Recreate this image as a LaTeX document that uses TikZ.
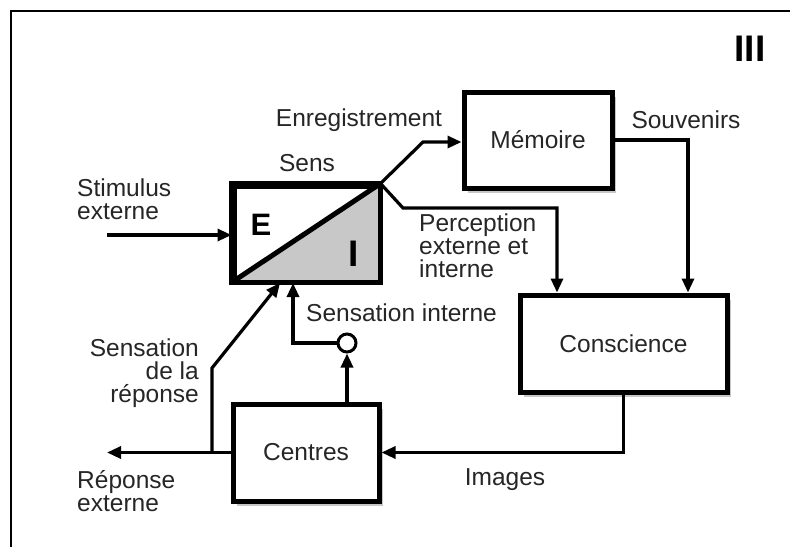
\documentclass[tikz,border=0pt]{standalone}
\usepackage{fontspec}
\setmainfont{Liberation Sans}
\usetikzlibrary{arrows.meta,shadows}
\definecolor{txt}{HTML}{262626}
\definecolor{lightgrayfill}{HTML}{C8C8C8}
\begin{document}
\begin{tikzpicture}[x=1pt,y=-1pt,
  lbl/.style={inner sep=0pt,text=txt,font=\fontsize{24.5}{23}\selectfont},
  box/.style={draw=black,line width=5pt,fill=white,inner sep=0pt,
    drop shadow={shadow xshift=4pt,shadow yshift=-5pt,opacity=0.22,fill=black}},
  conn/.style={line width=3.2pt,line join=miter},
  arr/.style={conn,-{Triangle[length=14pt,width=12pt]}}]
\useasboundingbox (0,0) rectangle (790,547);
\fill[white] (0,0) rectangle (790,547);
\draw[line width=1.5pt] (11,547) -- (11,11) -- (790,11);

% boxes
\node[box,minimum width=144pt,minimum height=94pt] (sens) at (306,233) {};
\fill[lightgrayfill] (sens.south west) -- (sens.north east) -- (sens.south east) -- cycle;
\draw[line width=5pt] (sens.south west) -- (sens.north east);
\draw[line width=5pt] (sens.south west) rectangle (sens.north east);
\node[box,minimum width=148pt,minimum height=96pt,lbl] (memo) at (538,140) {Mémoire};
\node[box,minimum width=207pt,minimum height=97pt,lbl] (consc) at (623.5,343.5) {Conscience};
\node[box,minimum width=146pt,minimum height=97pt,lbl] (centres) at (306,452.5) {Centres};
\node[draw,circle,line width=3pt,minimum size=18pt,inner sep=0pt,fill=white] (circ) at (347,343) {};

% letters in the sense box
\node[inner sep=0pt,font=\fontsize{31}{31}\selectfont\bfseries] (E) at (261,225) {E};
\node[inner sep=0pt,font=\fontsize{37}{37}\selectfont\bfseries] (I) at (354,254) {I};
\node[inner sep=0pt,font=\fontsize{37}{37}\selectfont\bfseries] (roman) at (750,49) {III};

% coordinates
\coordinate (stim) at (107,235);
\coordinate (e1) at (423,142);
\coordinate (p1) at (403,208);
\coordinate (p2) at (557,208);
\coordinate (s1) at (688,140);
\coordinate (i1) at (623.5,452.5);
\coordinate (rep) at (107,452.5);
\coordinate (b1) at (212,452.5);
\coordinate (b2) at (212,368);
\coordinate (t1) at (280,283);
\coordinate (c1) at (293,343);
\coordinate (c2) at (293,283);

% connectors
\draw[arr] (stim) -- (sens.west |- stim);
\draw[arr] (sens.north east) -- (e1) -- (memo.west |- e1);
\draw[arr] (sens.north east) -- (p1) -- (p2) -- (p2 |- consc.north);
\draw[arr] (memo.east) -- (s1) -- (s1 |- consc.north);
\draw[arr] (consc.south) -- (i1) -- (centres.east);
\draw[arr] (centres.west) -- (rep);
\draw[arr] (b1) -- (b2) -- (t1);
\draw[arr] (circ.south |- centres.north) -- (circ.south);
\draw[arr] (circ.west) -- (c1) -- (c2);

% labels
\node[lbl] (lenr) at (359,120) {Enregistrement};
\node[lbl] (lsens) at (307,163) {Sens};
\node[lbl,anchor=west,align=left] (lstim) at (77,199) {Stimulus\\externe};
\node[lbl] (lsouv) at (686,120) {Souvenirs};
\node[lbl,anchor=west,align=left] (lperc) at (419,246) {Perception\\externe et\\interne};
\node[lbl,anchor=west] (lsint) at (306,313) {Sensation interne};
\node[lbl,anchor=east,align=right] (lsrep) at (199,373) {Sensation\\de la\\réponse};
\node[lbl,anchor=west,align=left] (lrep) at (77,491) {Réponse\\externe};
\node[lbl] (limg) at (505,480) {Images};
\end{tikzpicture}
\end{document}
